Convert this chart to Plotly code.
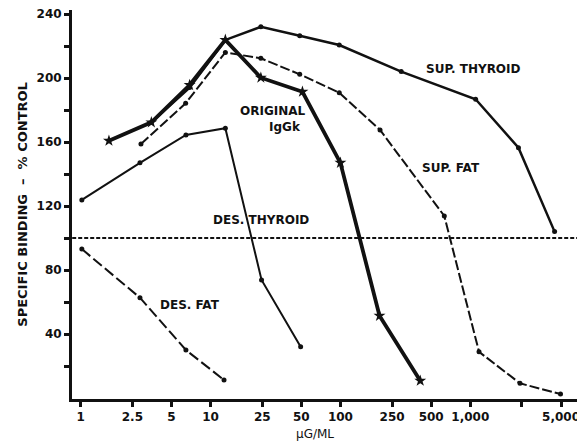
import math
import plotly.graph_objects as go

# ---- data ----
orig_x = [1.65, 3.5, 6.9, 13.0, 24.4, 51, 100, 200, 412]
orig_y = [160.8, 172.3, 195.6, 223.8, 200.2, 191.4, 147, 51.4, 10.8]

supthy_x = [3.5, 6.9, 13.0, 24.4, 48.6, 98, 294, 1100, 2350, 4460]
supthy_y = [172.3, 194.0, 223.8, 232, 226.4, 220.6, 204, 186.7, 156.4, 104]

supfat_x = [2.91, 6.43, 13.0, 24.4, 48.6, 98, 202, 631, 1168, 2415, 4955]
supfat_y = [158.8, 184.2, 216.0, 212.3, 202.3, 190.8, 167.5, 113.8, 28.9, 9.2, 2.5]

desthy_x = [1.02, 2.86, 6.46, 13.0, 24.7, 49.4]
desthy_y = [123.8, 147, 164.4, 168.6, 73.8, 32.1]

desfat_x = [1.02, 2.86, 6.46, 12.7]
desfat_y = [93.1, 62.7, 30.0, 11.3]

control_x = [0.86, 7000]
control_y = [100, 100]

x_tickvals = [1, 2.5, 5, 10, 25, 50, 100, 250, 500, 1000, 2500, 5000]
x_ticktext = ["1", "2.5", "5", "10", "25", "50", "100", "250", "500", "1,000", "", "5,000"]
y_tickvals = [20, 40, 60, 80, 100, 120, 140, 160, 180, 200, 220, 240]
y_ticktext = ["", "40", "", "80", "", "120", "", "160", "", "200", "", "240"]

BLACK = "#111111"
FONT = "DejaVu Sans, Liberation Sans, Arial, sans-serif"

fig = go.Figure()

fig.add_trace(go.Scatter(x=control_x, y=control_y, mode="lines",
                         line=dict(color=BLACK, width=2.2, dash="4px,2px")))
fig.add_trace(go.Scatter(x=desfat_x, y=desfat_y, mode="lines+markers",
                         line=dict(color=BLACK, width=2, dash="11px,4px"),
                         marker=dict(color=BLACK, size=5)))
fig.add_trace(go.Scatter(x=desthy_x, y=desthy_y, mode="lines+markers",
                         line=dict(color=BLACK, width=2),
                         marker=dict(color=BLACK, size=5)))
fig.add_trace(go.Scatter(x=supfat_x, y=supfat_y, mode="lines+markers",
                         line=dict(color=BLACK, width=2, dash="10px,3px"),
                         marker=dict(color=BLACK, size=5)))
fig.add_trace(go.Scatter(x=supthy_x, y=supthy_y, mode="lines+markers",
                         line=dict(color=BLACK, width=2.5),
                         marker=dict(color=BLACK, size=5)))
fig.add_trace(go.Scatter(x=orig_x, y=orig_y, mode="lines+markers",
                         line=dict(color=BLACK, width=3.8),
                         marker=dict(color=BLACK, size=9, symbol="star")))

def lx(px):
    return (px - 80.7) / 129.85

def vy(py):
    return (398 - py) / 1.6

labels = [
    ("SUP. THYROID", 473, 69, "center"),
    ("SUP. FAT", 451, 168, "center"),
    ("ORIGINAL", 308, 111, "right"),
    ("IgGk", 303, 127, "right"),
    ("DES. THYROID", 261, 220, "center"),
    ("DES. FAT", 190, 305, "center"),
]
for txt, px, py, anc in labels:
    fig.add_annotation(x=lx(px), y=vy(py), text=txt, showarrow=False,
                       xanchor=anc, yanchor="middle",
                       font=dict(family=FONT, size=12, color=BLACK, weight="bold"))

fig.add_annotation(xref="paper", yref="paper", x=-0.098, y=0.50,
                   text="SPECIFIC BINDING  \u2013  % CONTROL", textangle=-90,
                   showarrow=False, xanchor="center", yanchor="middle",
                   font=dict(family=FONT, size=13, color=BLACK, weight="bold"))
fig.add_annotation(xref="paper", yref="paper", x=0.478, y=-0.09,
                   text="\u00b5G/ML", showarrow=False,
                   xanchor="center", yanchor="middle",
                   font=dict(family=FONT, size=12, color=BLACK))

fig.update_xaxes(type="log", range=[math.log10(0.857), math.log10(7000)],
                 tickvals=x_tickvals, ticktext=x_ticktext,
                 ticks="outside", ticklen=5, tickwidth=3, tickcolor=BLACK,
                 showline=True, linecolor=BLACK, linewidth=3,
                 showgrid=False, zeroline=False, automargin=False,
                 ticklabeloverflow="allow",
                 tickfont=dict(family=FONT, size=12, color=BLACK, weight="bold"))
fig.update_yaxes(range=[-0.6, 242.5],
                 tickvals=y_tickvals, ticktext=y_ticktext,
                 ticks="outside", ticklen=5, tickwidth=3, tickcolor=BLACK,
                 showline=True, linecolor=BLACK, linewidth=3,
                 showgrid=False, zeroline=False, automargin=False,
                 ticklabeloverflow="allow",
                 tickfont=dict(family=FONT, size=12, color=BLACK, weight="bold"))

# the page places the figure 8px in from the top-left corner
fig.update_layout(width=577, height=434, showlegend=False,
                  paper_bgcolor="white", plot_bgcolor="white",
                  margin=dict(l=64, r=5, t=2, b=43))

fig.write_html("out.html")
